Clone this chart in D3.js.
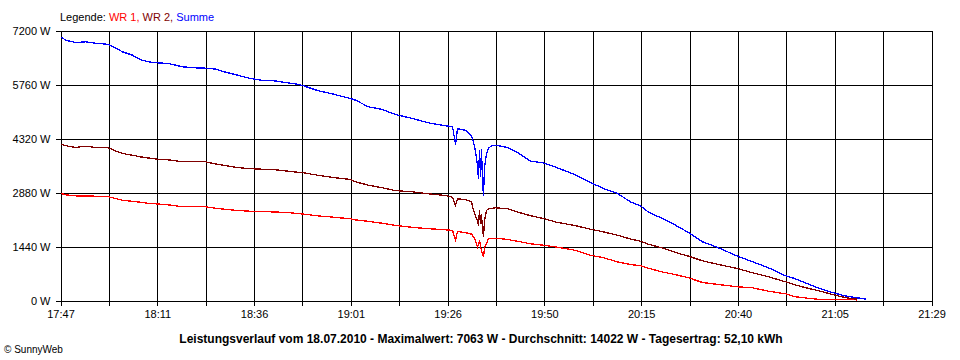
<!DOCTYPE html>
<html>
<head>
<meta charset="utf-8">
<script src="https://cdn.jsdelivr.net/npm/d3@7"></script>
<style>
  html, body { margin: 0; padding: 0; background: #fff; }
  svg { display: block; font-family: "Liberation Sans", Arial, sans-serif; }
</style>
</head>
<body>
<svg id="chart" width="960" height="360"></svg>
<script>
// ---- data ----
const times = ["17:47:15","17:48:16","17:50:49","17:53:22","17:55:55","17:59:14","18:01:01","18:02:48","18:05:21","18:07:23",
"18:09:26","18:11:43","18:14:32","18:18:06","18:21:25","18:23:57","18:26:30","18:29:03","18:32:07","18:35:26",
"18:38:29","18:41:48","18:44:51","18:47:24","18:48:56","18:52:30","18:56:35","19:00:55","19:02:11","19:05:30",
"19:09:04","19:12:23","19:16:43","19:20:48","19:25:08","19:26:55","19:27:41","19:28:11","19:30:14","19:31:45",
"19:32:16","19:32:47","19:33:17","19:33:32","19:33:48","19:34:03","19:34:18","19:34:34","19:34:49","19:35:04",
"19:35:35","19:36:05","19:36:51","19:37:52","19:40:56","19:43:29","19:46:48","19:50:06","19:53:41","19:57:45",
"20:02:05","20:05:24","20:08:58","20:12:17","20:14:50","20:16:52","20:20:26","20:23:45","20:27:04","20:30:38",
"20:34:43","20:39:33","20:43:23","20:47:27","20:51:47","20:53:50","20:57:24","21:00:43","21:04:01","21:06:34",
"21:08:21","21:10:08","21:12:26"];

const wr1 = [2853,2820,2791,2785,2782,2765,2720,2675,2645,2620,
2590,2575,2550,2498,2498,2498,2460,2430,2400,2380,
2370,2360,2345,2320,2305,2258,2222,2178,2150,2110,
2060,2000,1950,1915,1885,1870,1610,1840,1810,1770,
1700,1600,1422,1500,1600,1450,1333,1250,1155,1400,
1512,1645,1653,1662,1627,1580,1512,1475,1420,1350,
1208,1140,1030,960,925,860,760,690,605,480,
427,365,339,248,179,107,62,27,19,25,
30,15,null];

const wr2 = [4169,4130,4080,4115,4080,4072,3990,3920,3875,3830,
3800,3768,3750,3698,3698,3698,3640,3600,3545,3515,
3500,3485,3450,3420,3405,3342,3280,3227,3165,3075,
3005,2930,2898,2845,2800,2755,2533,2712,2690,2640,
2400,2250,2133,2000,2400,2045,2300,1900,1688,2133,
2400,2445,2453,2472,2445,2360,2260,2187,2080,2008,
1902,1830,1740,1640,1582,1500,1400,1280,1182,1058,
960,853,739,632,499,427,329,248,152,90,
55,35,null];

const summe = [7032,6942,6880,6898,6862,6830,6738,6631,6542,6420,
6364,6338,6320,6231,6204,6195,6170,6090,6009,5920,
5870,5855,5805,5769,5725,5600,5502,5387,5342,5165,
5093,4960,4853,4738,4658,4640,4160,4580,4540,4380,
4232,3965,3600,3245,4000,3288,4045,3165,2800,3555,
3912,4060,4125,4142,4080,3947,3715,3671,3538,3369,
3147,2987,2853,2631,2525,2355,2187,2008,1813,1565,
1405,1182,1032,872,659,595,445,312,205,133,
100,70,35];

const yTicks = [0, 1440, 2880, 4320, 5760, 7200];
const xTickLabels = ["17:47","18:11","18:36","19:01","19:26","19:50","20:15","20:40","21:05","21:29"];
const xStart = "17:47:00", xEnd = "21:29:00";

const legendParts = [
  {text: "Legende: ", color: "#000000"},
  {text: "WR 1, ", color: "#ff0000"},
  {text: "WR 2, ", color: "#800000"},
  {text: "Summe", color: "#0000ff"}
];
const title = "Leistungsverlauf vom 18.07.2010 - Maximalwert: 7063 W - Durchschnitt: 14022 W - Tagesertrag: 52,10 kWh";
const credit = "\u00A9 SunnyWeb";

// ---- chart ----
(function () {
const parse = d3.timeParse("%H:%M:%S");
const svg = d3.select("#chart");
const pLeft = 60.5, pRight = 931.5, pTop = 30.5, pBottom = 300.5;

const x = d3.scaleTime().domain([parse(xStart), parse(xEnd)]).range([pLeft, pRight]);
const y = d3.scaleLinear().domain([0, 7200]).range([pBottom, pTop]);

// x tick positions: 18 equal intervals, labels every second
const t0 = parse(xStart).getTime(), t1 = parse(xEnd).getTime();
const xTickVals = d3.range(19).map(i => new Date(t0 + (t1 - t0) * i / 18));

const xAxis = d3.axisBottom(x)
  .tickValues(xTickVals)
  .tickFormat((d, i) => i % 2 === 0 ? xTickLabels[i / 2] : "")
  .tickSizeOuter(0);
const gx = svg.append("g").attr("transform", `translate(0,${pBottom})`).call(xAxis);
gx.select(".domain").remove();
gx.selectAll(".tick line").attr("y1", -(pBottom - pTop)).attr("y2", 5).attr("stroke", "#000").attr("shape-rendering", "crispEdges");
gx.selectAll(".tick text").attr("y", 10).attr("dy", "0.71em").attr("font-size", 11).attr("fill", "#000").attr("font-family", "Liberation Sans, Arial, sans-serif");

const yAxis = d3.axisLeft(y)
  .tickValues(yTicks)
  .tickFormat(d => d + " W")
  .tickSizeOuter(0);
const gy = svg.append("g").attr("transform", `translate(${pLeft},0)`).call(yAxis);
gy.select(".domain").remove();
gy.selectAll(".tick line").attr("x1", -5).attr("x2", pRight - pLeft).attr("stroke", "#000").attr("shape-rendering", "crispEdges");
gy.selectAll(".tick text").attr("x", -10).attr("font-size", 11).attr("fill", "#000").attr("font-family", "Liberation Sans, Arial, sans-serif");

// lines
const series = [
  {vals: wr1, color: "#ff0000"},
  {vals: wr2, color: "#800000"},
  {vals: summe, color: "#0000ff"}
];
const line = d3.line()
  .defined(d => d.v != null)
  .x(d => x(d.t))
  .y(d => y(d.v));
series.forEach(s => {
  const pts = times.map((t, i) => ({t: parse(t), v: s.vals[i]}));
  svg.append("path")
    .datum(pts)
    .attr("fill", "none")
    .attr("stroke", s.color)
    .attr("stroke-width", 1.3)
    .attr("shape-rendering", "crispEdges")
    .attr("d", line);
});

// legend
const leg = svg.append("text").attr("x", 60).attr("y", 21).attr("font-size", 11);
legendParts.forEach(p => leg.append("tspan").attr("fill", p.color).text(p.text));

// title
svg.append("text").attr("x", 481).attr("y", 343).attr("text-anchor", "middle")
  .attr("font-size", 12).attr("font-weight", "bold").attr("fill", "#000").text(title);

svg.append("text").attr("x", 4).attr("y", 353).attr("font-size", 10).attr("fill", "#000").text(credit);
})();
</script>
</body>
</html>
